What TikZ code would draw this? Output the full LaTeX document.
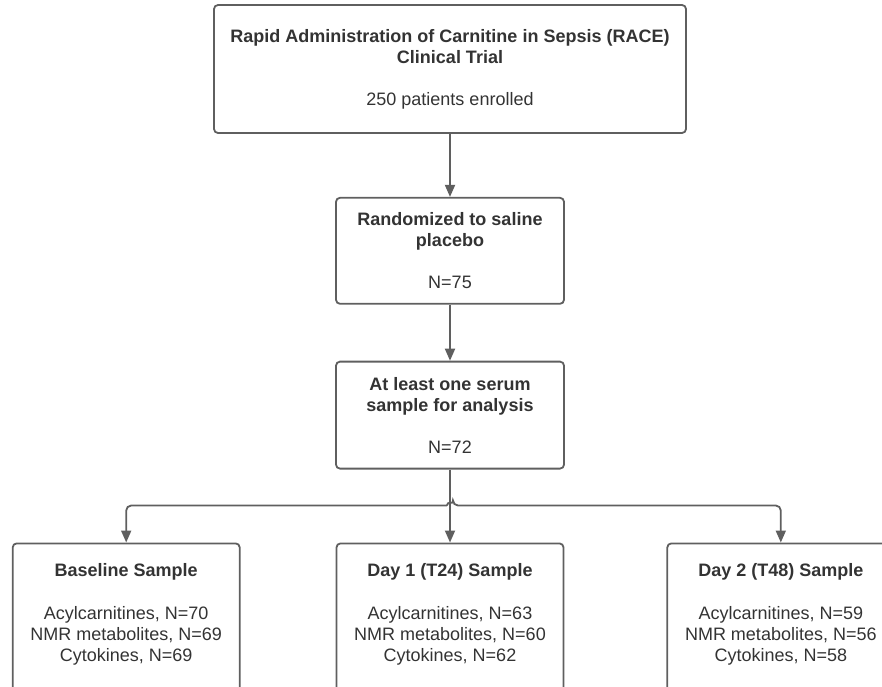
\documentclass[tikz,border=0pt]{standalone}
\usepackage{fontspec}
\setmainfont{Liberation Sans}
\usetikzlibrary{arrows.meta,positioning}
\definecolor{linegray}{HTML}{5F5F5F}
\definecolor{textgray}{HTML}{333333}
\tikzset {
  >={Triangle[width=10pt,length=12pt]},
  box/.style={draw=linegray, line width=1.8pt, rounded corners=4pt,
    align=center, text=textgray, inner sep=0pt,
    font=\fontsize{18}{21}\selectfont},
  sample/.style={box, minimum width=227pt, minimum height=152pt},
  link/.style={->, draw=linegray, line width=1.8pt},
}

\begin{document}
\begin{tikzpicture}[x=1pt,y=1pt,node distance=63pt]
  \clip (0,0) rectangle (882,-686);
  \node[box, minimum width=472pt, minimum height=128pt] (trial) at (450,-69)
    {\textbf{Rapid Administration of Carnitine in Sepsis (RACE)}\\
     \textbf{Clinical Trial}\\[21pt]250 patients enrolled};
  \node[box, minimum width=228pt, minimum height=106pt, below=of trial] (placebo)
    {\textbf{Randomized to saline}\\\textbf{placebo}\\[21pt]N=75};
  \node[box, minimum width=228pt, minimum height=107pt, below=56pt of placebo] (serum)
    {\textbf{At least one serum}\\\textbf{sample for analysis}\\[21pt]N=72};
  % samples, boxes run off the bottom edge
  \node[sample, below=73pt of serum] (day1)
    {\textbf{Day 1 (T24) Sample}\\[22pt]Acylcarnitines, N=63\\
     NMR metabolites, N=60\\Cytokines, N=62\\[-7pt]\mbox{}};
  \node[sample, left=95pt of day1] (base)
    {\textbf{Baseline Sample}\\[22pt]Acylcarnitines, N=70\\
     NMR metabolites, N=69\\Cytokines, N=69\\[-7pt]\mbox{}};
  \node[sample, right=102pt of day1] (day2)
    {\textbf{Day 2 (T48) Sample}\\[22pt]Acylcarnitines, N=59\\
     NMR metabolites, N=56\\Cytokines, N=58\\[-7pt]\mbox{}};

  \draw[link] (trial) -- (placebo);
  \draw[link] (placebo) -- (serum);
  \draw[link] (serum) -- (day1);
  \path (serum.south) ++(0,-36) coordinate (split);
  \draw[link, rounded corners=5pt] ([xshift=-3pt]split) -| (base.north);
  \draw[link, rounded corners=5pt] ([xshift=-3pt]split)
    arc[start angle=180, end angle=0, radius=3pt] -| (day2.north);
\end{tikzpicture}
\end{document}
